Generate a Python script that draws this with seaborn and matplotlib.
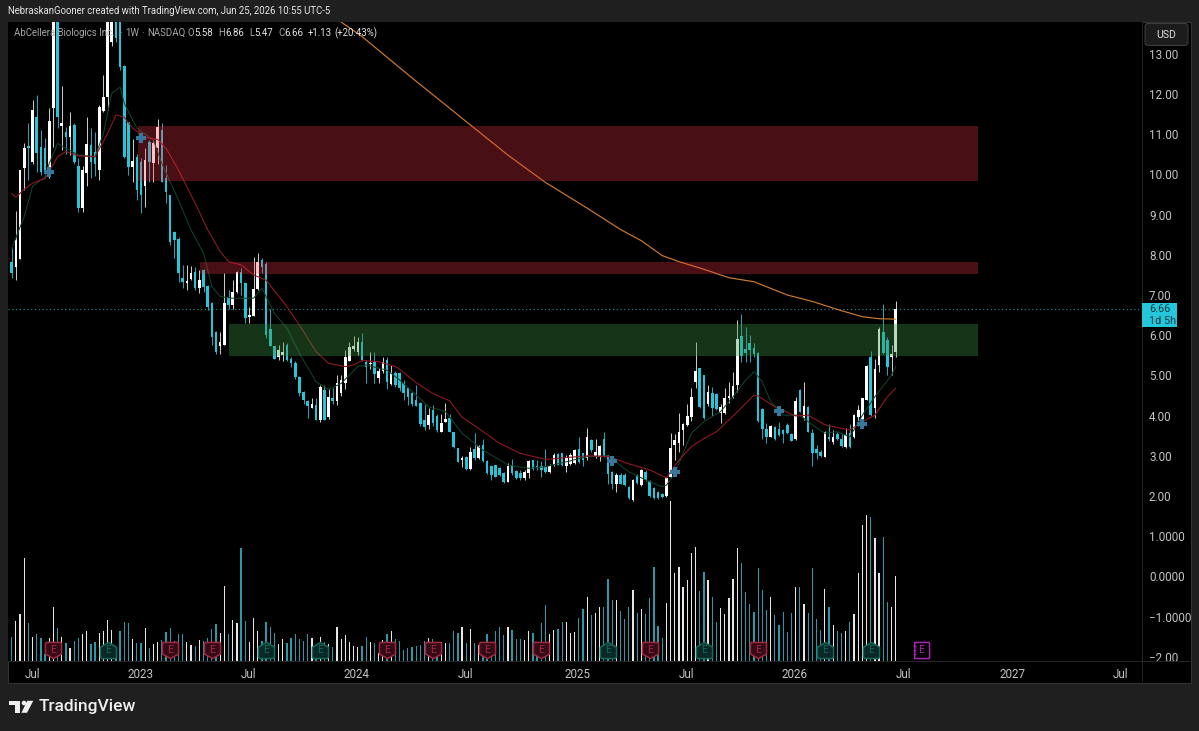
import matplotlib
matplotlib.use("Agg")
import matplotlib.pyplot as plt
import seaborn as sns
from matplotlib.patches import Rectangle, FancyBboxPatch, Polygon, Circle
from matplotlib.path import Path
from matplotlib.transforms import IdentityTransform

# Weekly candles, newest last
opens = [
 7.83,7.70,7.89,10.15,10.70,10.32,11.44,10.69,10.65,10.03,
 11.64,14.5,11.2,11.06,10.94,11.23,10.21,9.16,10.04,10.73,
 10.56,10.11,11.58,11.92,13.3,14.5,14.0,12.7,11.3,10.19,
 10.44,10.32,9.7,10.81,10.29,10.65,11.1,9.9,9.49,8.57,
 8.4,7.43,7.3,7.39,7.58,7.17,7.62,7.22,6.81,6.09,
 5.74,5.76,6.92,6.75,7.08,7.56,7.29,6.45,6.48,7.14,
 7.87,7.76,6.15,5.73,5.45,5.51,5.75,5.42,5.32,4.97,
 4.58,4.37,4.2,4.27,3.9,4.64,3.97,4.45,4.37,4.55,
 4.82,5.37,5.65,5.57,5.84,5.34,5.28,5.34,4.94,5.11,
 5.38,4.79,5.05,5.05,4.82,4.68,4.55,4.4,4.32,3.89,
 3.77,4.14,3.99,3.6,3.85,3.93,3.6,3.2,2.9,2.96,
 2.66,3.16,2.94,3.27,2.88,2.75,2.77,2.69,2.56,2.36,
 2.77,2.63,2.58,2.46,2.56,2.9,2.75,2.75,2.71,2.6,
 2.77,3.05,3.06,2.75,2.8,2.83,3.18,3.06,2.94,3.39,
 3.0,2.98,3.43,3.02,2.6,2.31,2.52,2.52,2.23,1.9,
 2.52,2.27,2.6,2.38,2.19,2.1,2.06,2.0,2.48,3.27,
 3.31,3.64,3.77,3.96,4.84,5.18,5.01,4.3,4.55,4.54,
 4.07,4.07,4.45,4.47,4.76,5.98,5.65,5.8,5.68,5.56,
 4.16,3.66,3.48,3.72,3.66,3.64,3.76,3.54,3.41,4.63,
 3.93,4.22,3.56,3.18,3.09,2.98,3.47,3.35,3.54,3.41,
 3.22,3.56,3.47,3.97,3.85,4.4,5.46,4.18,5.26,6.09,
 5.88,5.47,5.58]
highs = [
 8.16,9.10,10.11,10.77,11.27,11.85,11.97,11.10,10.90,11.64,
 15.0,15.0,12.20,11.18,11.56,11.27,10.40,10.20,11.44,11.15,
 11.06,11.73,12.47,15.0,15.0,15.0,15.0,12.72,11.30,10.87,
 10.50,10.40,10.65,10.85,10.85,11.39,11.27,10.23,9.50,8.60,
 8.45,7.75,7.75,7.72,7.70,7.62,7.65,7.25,6.83,6.10,
 6.09,7.54,7.12,7.37,7.60,7.66,7.30,6.71,7.95,8.04,
 7.91,7.83,6.64,5.73,5.75,5.84,5.80,5.45,5.35,4.98,
 4.60,4.40,4.43,4.45,4.76,4.76,4.65,4.68,5.01,5.00,
 5.62,5.84,5.98,5.96,6.05,5.38,5.59,5.59,5.18,5.47,
 5.45,5.26,5.10,5.08,4.89,4.70,4.60,4.76,4.33,4.29,
 4.18,4.26,4.03,4.04,4.32,4.04,3.60,3.20,3.00,3.00,
 3.23,3.57,3.27,3.41,2.90,2.77,2.78,2.72,2.60,2.82,
 2.91,2.64,2.65,2.65,2.90,2.90,2.90,2.88,3.16,2.80,
 3.06,3.06,3.07,3.03,3.07,3.18,3.46,3.08,3.68,3.41,
 3.43,3.27,3.60,3.03,2.62,2.58,2.56,2.56,2.25,2.42,
 2.55,2.66,2.65,2.39,2.22,2.12,2.07,2.48,3.56,3.54,
 4.07,3.81,4.30,4.68,5.84,5.19,5.02,4.76,4.70,4.55,
 4.29,4.68,4.84,5.09,6.39,6.53,6.21,6.00,5.81,5.57,
 4.20,3.81,3.76,3.74,3.85,3.66,3.82,3.56,4.47,4.65,
 4.84,4.23,3.66,3.27,3.14,3.61,3.80,3.64,3.60,3.55,
 3.68,3.80,4.04,4.26,4.45,5.25,5.61,5.42,6.21,6.78,
 5.95,5.76,6.86]
lows = [
 7.42,7.37,7.89,9.61,9.86,10.27,10.07,9.98,9.90,9.90,
 10.69,11.15,10.60,10.50,10.48,10.27,9.07,9.07,9.70,9.90,
 9.97,9.86,11.56,11.60,13.20,13.30,12.60,10.40,9.98,9.82,
 9.36,9.03,9.20,9.82,9.82,10.27,9.82,9.28,8.24,7.91,
 7.33,7.17,7.12,7.37,7.12,7.06,7.08,6.63,5.76,5.53,
 5.53,5.76,6.64,6.64,7.04,7.00,6.30,6.30,6.47,7.12,
 7.54,5.92,5.72,5.41,5.38,5.37,5.37,5.20,4.90,4.50,
 4.30,3.93,4.18,3.88,3.85,3.88,3.91,4.30,4.27,4.50,
 4.65,5.35,5.60,5.50,5.36,4.82,5.17,4.82,4.80,5.07,
 4.65,4.76,4.70,4.60,4.39,4.26,4.25,4.24,3.75,3.64,
 3.66,3.75,3.60,3.58,3.85,3.58,3.20,2.84,2.71,2.65,
 2.65,2.90,2.92,2.85,2.55,2.40,2.47,2.50,2.33,2.34,
 2.53,2.42,2.41,2.40,2.45,2.65,2.65,2.48,2.58,2.58,
 2.75,2.76,2.75,2.60,2.78,2.80,2.82,2.75,2.90,3.10,
 2.94,2.88,2.98,2.31,2.17,2.11,2.29,2.25,1.93,1.88,
 2.30,2.26,2.38,1.98,1.92,1.92,1.95,1.98,2.46,2.90,
 3.10,3.27,3.73,3.87,4.68,4.19,3.92,4.25,3.99,4.15,
 3.82,4.05,4.32,4.45,4.59,5.34,5.34,5.34,5.45,3.85,
 3.43,3.33,3.46,3.40,3.50,3.31,3.54,3.36,3.40,4.08,
 3.90,3.58,2.75,2.93,2.96,2.97,3.38,3.30,3.40,3.22,
 3.20,3.20,3.45,3.74,3.80,4.38,3.98,3.93,5.09,5.54,
 5.01,5.01,5.47]
closes = [
 7.54,8.37,10.11,10.65,10.65,11.60,10.52,10.07,10.00,11.34,
 14.5,11.44,11.27,10.94,11.20,10.32,9.16,10.11,10.75,10.32,
 10.27,11.68,11.92,14.2,14.0,13.4,12.68,10.44,10.19,10.33,
 9.61,9.49,10.36,10.32,10.77,11.19,9.82,9.57,8.33,8.37,
 7.54,7.33,7.34,7.54,7.17,7.37,7.20,6.71,5.96,5.59,
 5.84,6.79,6.75,7.08,7.58,7.29,6.42,6.50,7.14,7.83,
 7.69,6.00,5.72,5.42,5.63,5.57,5.38,5.32,4.97,4.55,
 4.39,4.24,4.30,3.90,4.72,3.90,4.47,4.37,4.82,4.88,
 5.47,5.70,5.72,5.84,5.38,5.22,5.32,5.03,5.12,5.34,
 4.84,5.07,4.76,4.68,4.55,4.47,4.30,4.24,3.79,3.72,
 4.02,3.81,3.64,3.82,3.91,3.60,3.21,2.85,2.94,2.66,
 3.10,2.94,3.24,2.87,2.56,2.52,2.48,2.52,2.36,2.75,
 2.56,2.44,2.44,2.60,2.87,2.66,2.69,2.65,2.60,2.75,
 3.02,2.77,2.77,2.98,3.02,3.14,2.85,2.90,3.48,3.14,
 3.10,3.24,3.00,2.55,2.30,2.52,2.31,2.27,1.94,2.40,
 2.33,2.65,2.40,2.00,1.94,1.94,1.97,2.44,3.19,3.39,
 3.60,3.79,3.99,4.47,5.11,4.21,3.93,4.59,4.18,4.16,
 4.22,4.45,4.48,4.73,5.90,5.48,5.56,5.62,5.52,3.87,
 3.66,3.46,3.74,3.43,3.52,3.54,3.56,3.38,4.37,4.10,
 4.24,3.60,3.06,3.06,3.00,3.60,3.41,3.47,3.41,3.24,
 3.52,3.22,4.01,4.14,4.43,5.23,4.01,5.17,6.15,5.56,
 5.22,5.53,6.66]
volume = [
 0.73,1.20,1.40,3.08,1.13,0.73,0.81,0.68,0.20,0.68,
 1.61,0.98,0.73,0.55,0.40,0.60,0.68,0.80,0.90,0.50,
 0.56,0.83,0.90,1.23,0.93,0.38,0.91,1.18,1.13,0.65,
 0.53,0.55,0.99,0.40,0.50,0.58,0.63,0.88,0.99,0.61,
 0.80,0.81,0.56,0.48,0.45,0.63,0.60,0.68,0.96,1.10,
 0.83,2.25,0.80,1.23,1.13,3.38,1.20,0.58,1.30,0.90,
 0.61,1.18,1.01,0.83,0.50,0.65,0.53,0.68,0.81,0.66,
 0.61,0.81,0.70,0.48,0.73,0.58,0.50,0.41,1.01,0.66,
 0.78,0.58,0.46,0.43,0.46,0.73,0.56,0.55,0.23,0.63,
 0.81,0.90,0.65,0.60,0.33,0.40,0.41,0.45,0.48,0.61,
 0.68,0.65,0.43,0.58,0.55,0.53,0.90,0.83,1.01,0.55,
 0.95,0.53,0.48,0.43,0.81,0.55,0.90,1.03,0.78,1.03,
 0.93,0.66,0.66,0.63,0.90,0.83,0.43,1.15,1.68,0.80,
 0.93,0.95,1.18,1.18,0.83,0.86,1.30,1.56,1.91,1.38,
 1.43,1.63,1.61,2.45,1.83,1.83,1.51,1.26,1.63,2.13,
 1.43,1.55,1.41,1.88,2.83,1.06,0.70,1.75,4.80,2.63,
 2.83,2.21,2.43,3.23,3.41,2.11,2.68,2.43,1.91,1.18,
 1.58,1.41,1.90,2.45,3.38,2.93,2.08,1.70,1.48,2.78,
 2.13,1.53,1.91,1.38,1.08,1.48,0.86,1.43,2.23,2.21,
 1.71,1.43,2.78,1.26,0.93,2.15,1.61,1.08,0.90,0.85,
 0.91,1.18,1.40,2.63,4.08,4.38,4.31,3.68,2.63,3.71,
 1.78,1.63,2.55]

# Moving averages, sampled along the weekly index
ema_fast_week = [0,3,5,8,9,11,13,16,20,22,24,26,27,30,34,36,40,43,46,48,50,53,58,60,63,66,69,73,76,79,83,85,90,
                 93,97,100,104,108,113,117,119,124,128,133,138,143,148,152,156,157,159,163,166,170,173,176,178,180,182,185,189,192,195,198,201,204,207,211,212]
ema_fast = [8.16,8.95,9.70,9.94,10.27,10.77,10.65,10.48,10.44,11.02,12.02,12.17,11.77,11.15,10.85,10.27,9.36,8.62,8.04,7.21,6.96,6.92,6.92,7.17,6.54,6.17,5.55,4.84,4.65,4.80,5.22,5.26,5.13,
            4.89,4.51,4.22,4.10,3.56,3.14,2.90,2.77,2.69,2.73,2.85,2.98,3.00,2.60,2.40,2.23,2.27,2.56,3.56,3.85,4.10,4.47,4.88,5.09,4.84,4.35,4.01,4.01,3.77,3.56,3.60,3.47,4.01,4.47,5.01,5.22]
ema_slow_week = [0,1,3,5,8,9,11,13,16,20,23,25,27,29,32,35,37,40,45,47,50,52,55,58,61,66,69,73,76,80,82,84,88,92,
                 93,97,101,105,108,112,117,122,128,138,143,148,153,157,160,163,166,169,172,176,178,179,183,188,191,195,201,204,207,210,212]
ema_slow = [9.53,9.43,9.63,9.78,9.90,10.07,10.44,10.57,10.46,10.44,11.02,11.48,11.42,11.15,10.92,10.87,10.65,10.11,9.07,8.62,8.08,7.83,7.75,7.50,7.37,6.71,6.25,5.59,5.30,5.22,5.26,5.37,5.34,5.22,
            5.15,4.82,4.55,4.37,3.96,3.68,3.31,3.06,2.91,3.00,2.98,2.80,2.65,2.45,2.89,3.23,3.43,3.60,3.89,4.30,4.51,4.49,4.22,3.99,4.01,3.77,3.64,3.85,4.01,4.47,4.68]
ema_long_week = [79,84,96,110,119,128,138,146,151,156,160,166,172,178,186,192,198,204,208,212]
ema_long = [13.79,13.43,12.40,11.23,10.48,9.80,9.16,8.63,8.35,7.98,7.83,7.64,7.43,7.33,7.00,6.84,6.64,6.46,6.41,6.40]

# Supply and demand zones: (first week, last week, low, high)
supply_upper = (30.3, 231.7, 9.84, 11.20)
supply_lower = (45.1, 231.7, 7.51, 7.82)
demand_zone = (52.1, 231.7, 5.48, 6.28)

# Signal crosses
cross_week = [9, 31, 144, 159, 184, 204]
cross_price = [10.07, 10.91, 2.87, 2.60, 4.12, 3.79]

# Earnings flags
earn_miss_week = [10, 38, 48, 90, 101, 114, 127, 153, 179]
earn_beat_week = [23, 61, 74, 143, 166, 195, 206]
earn_next_week = [218]

price_ticks = [13, 12, 11, 10, 9, 8, 7, 6, 5, 4, 3, 2, 1, 0, -1, -2]
price_labels = ["13.00", "12.00", "11.00", "10.00", "9.00", "8.00", "7.00", "6.00", "5.00",
                "4.00", "3.00", "2.00", "1.0000", "0.0000", "\u22121.0000", "\u22122.00"]
month_weeks = [4.9, 30.8, 56.7, 82.8, 108.9, 135.8, 161.9, 187.8, 213.8, 239.9, 265.8]
month_labels = ["Jul", "2023", "Jul", "2024", "Jul", "2025", "Jul", "2026", "Jul", "2027", "Jul"]

W, H = 1199, 731
FRAME = "#1f1f1f"
TEAL = "#26c6da"
VOL_TEAL = "#2a98a8"
VOL_WHITE = "#e6e6e6"
TICK = "#c4c4c4"
FONT = ["Roboto", "DejaVu Sans"]

sns.set_theme(style="dark", rc={"axes.grid": False})
plt.rcParams["font.family"] = FONT

fig = plt.figure(figsize=(W / 100, H / 100), dpi=100, facecolor=FRAME)
ident = IdentityTransform()


def px_box(x0, y0, x1, y1, **kw):
    return Rectangle((x0, H - y1), x1 - x0, y1 - y0, transform=ident, **kw)


def px_text(x, y, s, **kw):
    kw.setdefault("va", "center")
    kw.setdefault("ha", "left")
    fig.text(x / W, 1 - y / H, s, **kw)


fig.add_artist(px_box(8, 22, 1190.5, 682.5, facecolor="black", edgecolor="#333333", lw=0.8, zorder=-5))

# Volume pane shares the frame with the price axes and sits beneath them
rect = (8 / W, 1 - 661 / H, (1142 - 8) / W, (661 - 22) / H)
ax_vol = fig.add_axes(rect, facecolor="black")
ax = fig.add_axes(rect)
ax.patch.set_visible(False)
ax_vol.set_zorder(0)
ax.set_zorder(1)

weeks = list(range(len(closes)))
direction = ["up" if c >= o else "down" for o, c in zip(opens, closes)]

sns.barplot(x=weeks, y=volume, hue=direction, palette={"up": VOL_WHITE, "down": VOL_TEAL},
            native_scale=True, dodge=False, width=0.3, errorbar=None, legend=False,
            linewidth=0, saturation=1, ax=ax_vol)
x_lo, x_hi = (8 - 11.7) / 4.17, (1142 - 11.7) / 4.17
ax_vol.set_xlim(x_lo, x_hi)
ax_vol.set_ylim(0, 639 * 3 / 100)
ax_vol.set_xticks([])
ax_vol.set_yticks([])
ax_vol.set_xlabel("")
ax_vol.set_ylabel("")
for s in ax_vol.spines.values():
    s.set_visible(False)

# Candles
for w, o, h, l, c, d in zip(weeks, opens, highs, lows, closes, direction):
    col = "white" if d == "up" else TEAL
    wick = "#d0d0d0" if d == "up" else "#2aa9bb"
    ax.vlines(w, l, h, color=wick, lw=0.7, zorder=3)
    ax.bar(w, abs(c - o), bottom=min(o, c), width=0.62, color=col, linewidth=0, zorder=4)

# Moving averages
sns.lineplot(x=ema_fast_week, y=ema_fast, color="#10442a", lw=0.75, errorbar=None, ax=ax, zorder=5)
sns.lineplot(x=ema_slow_week, y=ema_slow, color="#8f1822", lw=0.8, errorbar=None, ax=ax, zorder=5)
sns.lineplot(x=ema_long_week, y=ema_long, color="#cf7a2c", lw=0.85, errorbar=None, ax=ax, zorder=5)

# Zones lie over the candles and let them show through
for (x0, x1, y0, y1), col, a in [(supply_upper, "#f23645", 0.3), (supply_lower, "#f23645", 0.3),
                                 (demand_zone, "#3f9142", 0.36)]:
    ax.add_patch(Rectangle((x0, y0), x1 - x0, y1 - y0, facecolor=col, alpha=a, lw=0, zorder=6))

# Last price line
ax.axhline(closes[-1], color=TEAL, lw=0.8, ls=(0, (1, 2.4)), alpha=0.75, zorder=2)

sns.scatterplot(x=cross_week, y=cross_price, marker="P", s=58, color="#35779f", linewidth=0, ax=ax, zorder=7)

# Earnings flags
flag_miss = Path([(-.45, .5), (.45, .5), (.5, .42), (.5, -.22), (0, -.5), (-.5, -.22), (-.5, .42), (-.45, .5)], closed=True)
flag_beat = Path([(0, .5), (.5, .2), (.5, -.42), (.42, -.5), (-.42, -.5), (-.5, -.42), (-.5, .2), (0, .5)], closed=True)
flag_next = Path([(-.42, .5), (.46, .5), (.5, .44), (.5, -.44), (.46, -.5), (-.42, -.5), (-.42, .5)], closed=True)
flag_y = -1.83
for wk, mk, fc, ec in [(earn_miss_week, flag_miss, "#350b17", "#a3283f"),
                       (earn_beat_week, flag_beat, "#0a2825", "#12695c"),
                       (earn_next_week, flag_next, "#000000", "#a824b8")]:
    ax.scatter(wk, [flag_y] * len(wk), marker=mk, s=135, facecolor=fc, edgecolor=ec, linewidth=1.1, zorder=8)
    for w in wk:
        ax.text(w, flag_y, "E", color=ec, fontsize=7.5, ha="center", va="center", zorder=9)
for w in earn_next_week:
    ax.hlines([flag_y + 0.1, flag_y, flag_y - 0.1], w - 1.9, w - 1.2, color="#a824b8", lw=0.8, zorder=9)

ax.set_xlim(x_lo, x_hi)
ax.set_ylim(7 - (661 - 295) / 40.2, 7 - (22 - 295) / 40.2)
ax.yaxis.tick_right()
ax.set_yticks(price_ticks)
ax.set_yticklabels(price_labels, color=TICK, fontsize=8.4)
ax.set_xticks(month_weeks)
ax.set_xticklabels(month_labels, color=TICK, fontsize=8.4)
ax.tick_params(axis="both", length=0)
ax.tick_params(axis="y", pad=5)
ax.tick_params(axis="x", pad=5)
for s in ax.spines.values():
    s.set_visible(False)

# Axis dividers
fig.add_artist(px_box(1142, 22, 1142.8, 682, facecolor="#262626", lw=0, zorder=4))
fig.add_artist(px_box(8, 661, 1190, 661.8, facecolor="#262626", lw=0, zorder=4))

# Header and instrument legend
px_text(8, 11.5, "NebraskanGooner created with TradingView.com, Jun 25, 2026 10:55 UTC-5", color="#e6e6e6", fontsize=6.95)
LEG = "#a8a8a8"
VAL = "#e4e4e4"
for x, s, col in [(14, "AbCellera Biologics Inc.", LEG), (119, "\u00b7", LEG), (125, "1W", LEG), (141, "\u00b7", LEG),
                  (147, "NASDAQ", LEG), (187, "O", LEG), (194, "5.58", VAL), (218, "H", LEG), (225, "6.86", VAL),
                  (249, "L", LEG), (254, "5.47", VAL), (278, "C", LEG), (284, "6.66", VAL),
                  (308, "+1.13", VAL), (334, "(+20.43%)", VAL)]:
    px_text(x, 33, s, color=col, fontsize=6.9, zorder=10)

# Currency button
fig.add_artist(FancyBboxPatch((1147, H - 43.5), 39, 18, boxstyle="round,pad=2,rounding_size=3", transform=ident,
                              facecolor="#1c1c1c", edgecolor="#3a3a3a", lw=0.8, zorder=10))
px_text(1166, 35, "USD", color="#e0e0e0", fontsize=7.6, ha="center", zorder=11)

# Last price tag
fig.add_artist(px_box(1142, 302.5, 1177, 327, facecolor=TEAL, lw=0, zorder=10))
px_text(1149, 309.5, "6.66", color="#0b3c44", fontsize=7.8, zorder=11)
px_text(1149, 320.5, "1d 5h", color="#0b3c44", fontsize=7.8, zorder=11)

# Wordmark
for pts in ([(9.3, 700.8), (20.3, 700.8), (20.3, 712.8), (15, 712.8), (15, 705.3), (9.3, 705.3)],
            [(27.2, 700.8), (33.3, 700.8), (27, 712.8), (21.4, 712.8)]):
    fig.add_artist(Polygon([(x, H - y) for x, y in pts], closed=True, transform=ident, facecolor="#f0f0f0", lw=0, zorder=10))
fig.add_artist(Circle((24, H - 703), 2.3, transform=ident, facecolor="#f0f0f0", lw=0, zorder=10))
px_text(38.5, 707, "TradingView", color="#f0f0f0", fontsize=12.5, fontweight="medium", zorder=10)

fig.savefig("out.png", dpi=100, facecolor=FRAME)
